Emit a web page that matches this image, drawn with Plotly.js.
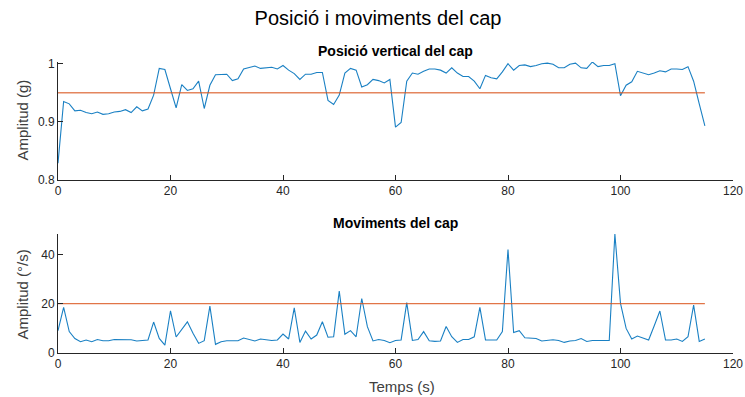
<!DOCTYPE html>
<html>
<head>
<meta charset="utf-8">
<script src="https://cdn.plot.ly/plotly-3.0.1.min.js"></script>
<style>html,body{margin:0;padding:0;background:#fff;}#chart{width:745px;height:397px;}</style>
</head>
<body>
<div id="chart"></div>
<script>
const temps = Array.from({length: 116}, (_, i) => i);

const posicio = [
  0.829, 0.935, 0.931, 0.919, 0.920, 0.916, 0.914, 0.917, 0.913, 0.914,
  0.917, 0.918, 0.921, 0.916, 0.926, 0.919, 0.922, 0.946, 0.992, 0.990,
  0.957, 0.924, 0.964, 0.954, 0.957, 0.970, 0.923, 0.963, 0.981, 0.981,
  0.982, 0.971, 0.974, 0.991, 0.994, 0.996, 0.992, 0.993, 0.994, 0.991,
  0.997, 0.989, 0.983, 0.973, 0.982, 0.982, 0.985, 0.985, 0.937, 0.930,
  0.946, 0.984, 0.992, 0.989, 0.960, 0.964, 0.973, 0.971, 0.967, 0.973,
  0.891, 0.899, 0.970, 0.984, 0.982, 0.987, 0.991, 0.991, 0.989, 0.984,
  0.993, 0.984, 0.978, 0.978, 0.970, 0.957, 0.980, 0.976, 0.974, 0.986,
  1.000, 0.989, 0.997, 0.998, 0.995, 0.997, 1.000, 1.001, 0.999, 0.993,
  0.993, 0.999, 1.001, 0.993, 0.992, 1.003, 0.995, 0.997, 0.997, 1.000,
  0.945, 0.963, 0.969, 0.987, 0.984, 0.981, 0.984, 0.988, 0.986, 0.991,
  0.991, 0.990, 0.995, 0.970, 0.931, 0.893
];

const moviments = [
  9.0, 18.5, 8.6, 5.8, 4.5, 5.2, 4.5, 5.4, 4.9, 4.9,
  5.4, 5.4, 5.3, 5.3, 4.8, 5.0, 5.2, 12.5, 5.8, 3.1,
  17.1, 6.4, 9.5, 12.6, 7.9, 3.8, 4.9, 19.0, 3.4, 4.5,
  4.9, 4.9, 4.9, 6.0, 5.5, 4.8, 5.6, 5.2, 5.0, 5.2,
  7.6, 5.6, 18.3, 4.2, 8.8, 5.6, 7.2, 12.6, 6.3, 6.5,
  25.1, 7.5, 9.0, 6.5, 22.1, 10.6, 4.8, 5.4, 5.0, 4.1,
  5.0, 5.2, 20.4, 5.0, 5.4, 8.6, 4.9, 4.6, 4.8, 10.7,
  6.5, 4.2, 5.4, 5.4, 6.5, 18.5, 5.2, 5.2, 5.2, 8.6,
  42.1, 8.2, 9.0, 6.1, 6.1, 5.8, 4.8, 5.0, 5.3, 5.0,
  4.2, 4.8, 5.0, 5.8, 4.6, 5.0, 5.0, 5.0, 5.0, 48.4,
  20.1, 9.9, 5.6, 6.8, 6.1, 5.2, 11.0, 17.0, 5.2, 5.2,
  5.6, 4.6, 6.5, 19.4, 4.6, 5.6
];

const llindarX = [0, 115];
const llindarPosicio = [0.95, 0.95];
const llindarMoviments = [20, 20];

const xTicks = [0, 20, 40, 60, 80, 100, 120];
const yTicksTop = [0.8, 0.9, 1];
const yTickTextTop = ['0.8', '0.9', '1'];
const yTicksBottom = [0, 20, 40];

const blue = '#0072BD';
const orange = '#D95319';
const axisColor = '#262626';
const labelColor = '#404040';
const font = 'Liberation Sans, Arial, Helvetica, sans-serif';

const W = 745, H = 397, L = 58, R = 12;
const px = v => (v - L) / (W - L - R);
const py = v => 1 - v / H;

const traces = [
  {x: temps, y: posicio, xaxis: 'x', yaxis: 'y', mode: 'lines', line: {color: blue, width: 1.1}, opacity: 0.9, hoverinfo: 'skip'},
  {x: llindarX, y: llindarPosicio, xaxis: 'x', yaxis: 'y', mode: 'lines', line: {color: orange, width: 1.5}, opacity: 0.7, hoverinfo: 'skip'},
  {x: temps, y: moviments, xaxis: 'x2', yaxis: 'y2', mode: 'lines', line: {color: blue, width: 1.1}, opacity: 0.9, hoverinfo: 'skip'},
  {x: llindarX, y: llindarMoviments, xaxis: 'x2', yaxis: 'y2', mode: 'lines', line: {color: orange, width: 1.3}, opacity: 0.8, hoverinfo: 'skip'}
];

const axCommon = {
  showgrid: false, zeroline: false, showline: true, linecolor: axisColor, linewidth: 1,
  ticks: 'inside', ticklen: 5, tickcolor: axisColor, tickwidth: 1,
  tickfont: {family: font, size: 12, color: axisColor}
};

const layout = {
  width: W, height: H,
  margin: {l: L, r: R, t: 0, b: 0},
  paper_bgcolor: '#fff', plot_bgcolor: '#fff',
  showlegend: false,
  font: {family: font, color: axisColor},
  title: {text: 'Posició i moviments del cap', font: {family: font, size: 20, color: '#000'},
    xref: 'container', x: 378 / W, xanchor: 'center', yref: 'container', y: 1 - 18 / H, yanchor: 'middle'},
  xaxis: Object.assign({}, axCommon, {domain: [0, 1], range: [0, 120], tickvals: xTicks, anchor: 'y'}),
  yaxis: Object.assign({}, axCommon, {domain: [py(180), py(62)], range: [0.8, 1.003], tickvals: yTicksTop, ticktext: yTickTextTop, anchor: 'x'}),
  xaxis2: Object.assign({}, axCommon, {domain: [0, 1], range: [0, 120], tickvals: xTicks, anchor: 'y2'}),
  yaxis2: Object.assign({}, axCommon, {domain: [py(352.7), py(234)], range: [0, 48.4], tickvals: yTicksBottom, anchor: 'x2'}),
  annotations: [
    {text: '<b>Posició vertical del cap</b>', xref: 'paper', yref: 'paper', x: 0.5, y: py(51), yanchor: 'middle', showarrow: false, font: {family: font, size: 14, color: '#000'}},
    {text: '<b>Moviments del cap</b>', xref: 'paper', yref: 'paper', x: 0.5, y: py(223), yanchor: 'middle', showarrow: false, font: {family: font, size: 14, color: '#000'}},
    {text: 'Amplitud (g)', xref: 'paper', yref: 'paper', x: px(21.5), y: py(120), xanchor: 'center', yanchor: 'middle', textangle: -90, showarrow: false, font: {family: font, size: 15, color: labelColor}},
    {text: 'Amplitud (°/s)', xref: 'paper', yref: 'paper', x: px(21.5), y: py(295), xanchor: 'center', yanchor: 'middle', textangle: -90, showarrow: false, font: {family: font, size: 15, color: labelColor}},
    {text: 'Temps (s)', xref: 'paper', yref: 'paper', x: px(402), y: py(386), xanchor: 'center', yanchor: 'middle', showarrow: false, font: {family: font, size: 15, color: labelColor}}
  ]
};

Plotly.newPlot('chart', traces, layout, {staticPlot: true, displayModeBar: false});
</script>
</body>
</html>
